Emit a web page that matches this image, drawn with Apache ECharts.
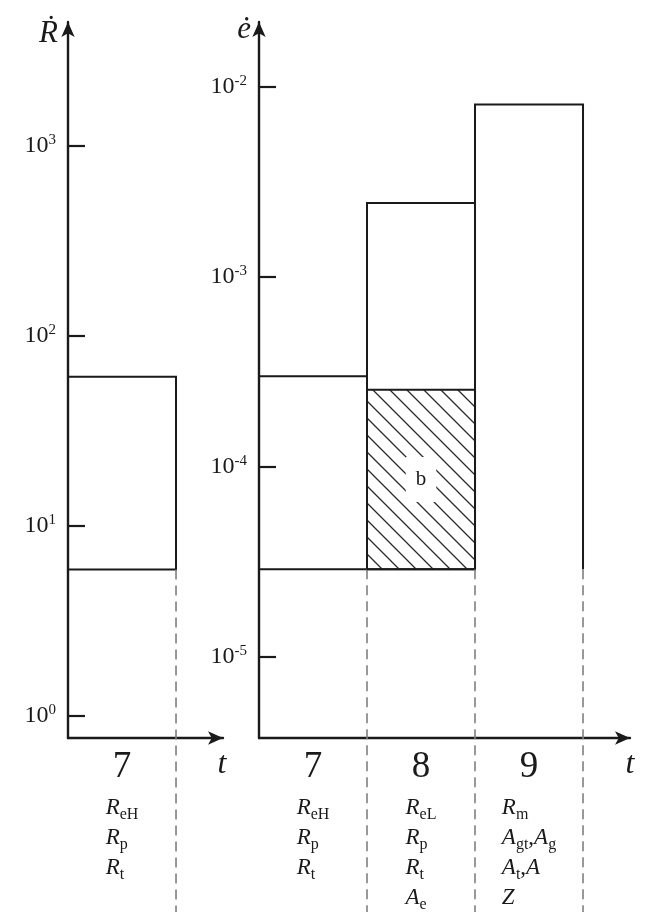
<!DOCTYPE html>
<html>
<head>
<meta charset="utf-8">
<script src="https://cdn.jsdelivr.net/npm/echarts@6/dist/echarts.min.js"></script>
<style>
  html, body { margin: 0; padding: 0; background: #fff; }
  #main { width: 650px; height: 912px; }
</style>
</head>
<body>
<div id="main"></div>
<script>
var phases = ['7', '8', '9'];
var params = [
  ['R_eH', 'R_p', 'R_t'],
  ['R_eL', 'R_p', 'R_t', 'A_e'],
  ['R_m', 'A_gt,A_g', 'A_t,A', 'Z']
];
var rTicks = [1, 10, 100, 1000];
var eTicks = [1e-5, 1e-4, 1e-3, 1e-2];
// 左图：阶段7的 R 速率范围
var rLow = [5.9];
var rHigh = [61];
// 右图：各阶段应变速率范围
var eLow = [2.9e-5, 2.9e-5, 2.9e-5];
var eHigh = [3.0e-4, 2.45e-3, 8.1e-3];
var openBottom = [0, 0, 1];
// 阶段8里的阴影区 b
var bLow = [2.9e-5];
var bHigh = [2.55e-4];

var FONT = "'Liberation Serif', 'DejaVu Serif', serif";
var INK = '#1a1a1a';

// 斜线填充
var hc = document.createElement('canvas');
hc.width = 17; hc.height = 17;
var hctx = hc.getContext('2d');
hctx.strokeStyle = '#2a2a2a';
hctx.lineWidth = 1.3;
hctx.beginPath();
hctx.moveTo(-2, -2); hctx.lineTo(19, 19);
hctx.moveTo(-19, -2); hctx.lineTo(2, 19);
hctx.moveTo(15, -2); hctx.lineTo(36, 19);
hctx.stroke();
var hatch = { image: hc, repeat: 'repeat' };

function powLabel(v) {
  var e = Math.round(Math.log(v) / Math.LN10);
  return '{b|10}{p|' + e + '}';
}
var powRich = {
  b: { fontSize: 24, lineHeight: 26, fontFamily: FONT, color: INK },
  p: { fontSize: 15, lineHeight: 12, verticalAlign: 'top', fontFamily: FONT, color: INK }
};

function paramLine(s) {
  return s.split(',').map(function (part) {
    var p = part.split('_');
    return '{i|' + p[0] + '}' + (p[1] ? '{s|' + p[1] + '}' : '');
  }).join('{n|,}');
}
function xLabel(value) {
  var i = Math.floor(value);
  return ['{big|' + phases[i] + '}'].concat(params[i].map(paramLine)).join('\n');
}
var xRich = {
  big: { fontSize: 37, lineHeight: 52, align: 'center', fontFamily: FONT, color: INK },
  i: { fontSize: 23, lineHeight: 30, fontStyle: 'italic', align: 'left', fontFamily: FONT, color: INK },
  s: { fontSize: 16, lineHeight: 15, verticalAlign: 'bottom', align: 'left', fontFamily: FONT, color: INK },
  n: { fontSize: 23, lineHeight: 30, align: 'left', fontFamily: FONT, color: INK }
};

function yAxisOf(gridIndex, min, max, ticks, name, namePad, nameGap) {
  return {
    type: 'log', gridIndex: gridIndex, min: min, max: max,
    name: name, nameLocation: 'end', nameGap: nameGap,
    nameTextStyle: { fontSize: 31, fontStyle: 'italic', fontFamily: FONT, color: INK,
      align: 'right', verticalAlign: 'middle', padding: namePad },
    axisLine: { show: true, symbol: ['none', 'arrow'], symbolSize: [10, 15],
      lineStyle: { color: INK, width: 2.4 } },
    axisTick: { show: true, inside: true, length: 17, customValues: ticks,
      lineStyle: { color: INK, width: 2.2 } },
    axisLabel: { customValues: ticks, formatter: powLabel, margin: 12, rich: powRich },
    splitLine: { show: false }
  };
}
function xAxisOf(gridIndex, max, count, nameGap) {
  var centers = [];
  for (var i = 0; i < count; i++) centers.push(i + 0.5);
  return {
    type: 'value', gridIndex: gridIndex, min: 0, max: max,
    name: '\nt', nameLocation: 'end', nameGap: nameGap,
    nameTextStyle: { fontSize: 32, lineHeight: 54, fontStyle: 'italic', fontFamily: FONT, color: INK,
      align: 'center', verticalAlign: 'middle' },
    axisLine: { show: true, symbol: ['none', 'arrow'], symbolSize: [10, 15],
      lineStyle: { color: INK, width: 2.4 } },
    axisTick: { show: false },
    axisLabel: { customValues: centers, formatter: xLabel, margin: 3, rich: xRich },
    splitLine: { show: false }
  };
}

function boxItem(p, api) {
  var a = api.coord([api.value(0), api.value(2)]);
  var b = api.coord([api.value(1), api.value(3)]);
  var pts = [[a[0], a[1]], [a[0], b[1]], [b[0], b[1]], [b[0], a[1]]];
  if (!api.value(4)) pts.push([a[0], a[1]]);
  return {
    type: 'group',
    children: [
      { type: 'polyline', shape: { points: pts }, style: { stroke: INK, lineWidth: 2, fill: null } },
      { type: 'line', shape: { x1: b[0], y1: a[1], x2: b[0], y2: api.getHeight() },
        style: { stroke: '#808080', lineWidth: 1.6, lineDash: [10, 6] } }
    ]
  };
}
function hatchItem(p, api) {
  var a = api.coord([api.value(0), api.value(2)]);
  var b = api.coord([api.value(1), api.value(3)]);
  return {
    type: 'rect',
    shape: { x: a[0], y: b[1], width: b[0] - a[0], height: a[1] - b[1] },
    style: { fill: hatch, stroke: INK, lineWidth: 2 },
    textContent: { style: { text: 'b', fontSize: 21, fontFamily: FONT, fill: INK,
      backgroundColor: '#fff', padding: [12, 10] } },
    textConfig: { position: 'inside' }
  };
}

var myChart = echarts.init(document.getElementById('main'));
var rightData = phases.map(function (ph, i) {
  return [i, i + 1, eLow[i], eHigh[i], openBottom[i]];
});

var option = {
  animation: false,
  backgroundColor: '#fff',
  grid: [
    { left: 68, top: 22, width: 155, bottom: 174, containLabel: false, outerBoundsMode: 'none' },
    { left: 259, top: 22, width: 371, bottom: 174, containLabel: false, outerBoundsMode: 'none' }
  ],
  xAxis: [xAxisOf(0, 1.435, 1, -1), xAxisOf(1, 3.435, 3, 0)],
  yAxis: [
    yAxisOf(0, 0.766, 4498, rTicks, '\u1E58', [0, 10, 0, 0], -12),
    yAxisOf(1, 3.75e-6, 0.02198, eTicks, '\u0117', [0, 8, 0, 0], -8)
  ],
  series: [
    {
      type: 'custom', xAxisIndex: 0, yAxisIndex: 0, clip: false,
      encode: { x: [0, 1], y: [2, 3] },
      renderItem: boxItem,
      data: [[0, 1, rLow[0], rHigh[0], 0]]
    },
    {
      type: 'custom', xAxisIndex: 1, yAxisIndex: 1, clip: false,
      encode: { x: [0, 1], y: [2, 3] },
      renderItem: hatchItem,
      data: [[1, 2, bLow[0], bHigh[0]]]
    },
    {
      type: 'custom', xAxisIndex: 1, yAxisIndex: 1, clip: false,
      encode: { x: [0, 1], y: [2, 3] },
      renderItem: boxItem,
      data: rightData
    }
  ]
};

myChart.setOption(option);
window.addEventListener('resize', function () {
  myChart.resize();
});
</script>
</body>
</html>
